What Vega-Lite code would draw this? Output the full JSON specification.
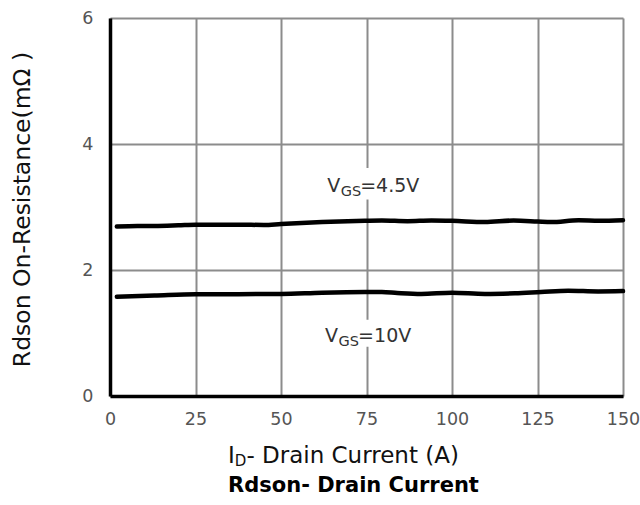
{
  "$schema": "https://vega.github.io/schema/vega-lite/v6.json",
  "width": 513,
  "height": 378,
  "autosize": {"type": "none"},
  "padding": {"left": 110, "top": 18, "right": 17, "bottom": 109},
  "background": "white",
  "config": {"view": {"stroke": null}, "font": "DejaVu Sans"},
  "title": {"text": "Rdson- Drain Current", "orient": "bottom", "anchor": "middle", "frame": "group", "fontSize": 21, "fontWeight": "bold", "font": "DejaVu Sans", "color": "#000000", "offset": 6, "dx": -13},
  "datasets": {
    "curves": [
      {"vgs": "4.5V", "current": 2, "rdson": 2.69},
      {"vgs": "4.5V", "current": 8, "rdson": 2.70},
      {"vgs": "4.5V", "current": 13, "rdson": 2.70},
      {"vgs": "4.5V", "current": 20, "rdson": 2.71},
      {"vgs": "4.5V", "current": 25, "rdson": 2.72},
      {"vgs": "4.5V", "current": 37.5, "rdson": 2.72},
      {"vgs": "4.5V", "current": 45, "rdson": 2.715},
      {"vgs": "4.5V", "current": 50, "rdson": 2.73},
      {"vgs": "4.5V", "current": 62, "rdson": 2.76},
      {"vgs": "4.5V", "current": 74.5, "rdson": 2.78},
      {"vgs": "4.5V", "current": 79.5, "rdson": 2.785},
      {"vgs": "4.5V", "current": 87, "rdson": 2.775},
      {"vgs": "4.5V", "current": 94, "rdson": 2.785},
      {"vgs": "4.5V", "current": 100, "rdson": 2.78},
      {"vgs": "4.5V", "current": 109.6, "rdson": 2.76},
      {"vgs": "4.5V", "current": 118, "rdson": 2.785},
      {"vgs": "4.5V", "current": 125, "rdson": 2.77},
      {"vgs": "4.5V", "current": 129, "rdson": 2.76},
      {"vgs": "4.5V", "current": 137, "rdson": 2.79},
      {"vgs": "4.5V", "current": 143, "rdson": 2.78},
      {"vgs": "4.5V", "current": 150, "rdson": 2.79},
      {"vgs": "10V", "current": 2, "rdson": 1.575},
      {"vgs": "10V", "current": 13, "rdson": 1.595},
      {"vgs": "10V", "current": 25, "rdson": 1.617},
      {"vgs": "10V", "current": 37.5, "rdson": 1.617},
      {"vgs": "10V", "current": 50, "rdson": 1.62},
      {"vgs": "10V", "current": 62, "rdson": 1.64},
      {"vgs": "10V", "current": 74.5, "rdson": 1.65},
      {"vgs": "10V", "current": 79.5, "rdson": 1.65},
      {"vgs": "10V", "current": 84, "rdson": 1.635},
      {"vgs": "10V", "current": 91, "rdson": 1.62},
      {"vgs": "10V", "current": 100, "rdson": 1.64},
      {"vgs": "10V", "current": 109.6, "rdson": 1.62},
      {"vgs": "10V", "current": 118.4, "rdson": 1.63},
      {"vgs": "10V", "current": 126, "rdson": 1.65},
      {"vgs": "10V", "current": 134, "rdson": 1.67},
      {"vgs": "10V", "current": 142.7, "rdson": 1.66},
      {"vgs": "10V", "current": 150, "rdson": 1.665}
    ]
  },
  "layer": [
    {
      "data": {"name": "curves"},
      "mark": {"type": "line", "color": "#000000", "strokeWidth": 4.5, "interpolate": "monotone", "strokeCap": "round"},
      "encoding": {
        "x": {
          "field": "current", "type": "quantitative",
          "scale": {"domain": [0, 150], "nice": false, "zero": false},
          "axis": {
            "values": [0, 25, 50, 75, 100, 125, 150],
            "format": "d",
            "title": null,
            "grid": true, "gridColor": "#8c8c8c", "gridWidth": 2,
            "domainColor": "#000000", "domainWidth": 3.5,
            "ticks": false,
            "labelFlush": false,
            "labelFont": "DejaVu Sans", "labelFontSize": 17.5, "labelColor": "#555555",
            "labelPadding": 14
          }
        },
        "y": {
          "field": "rdson", "type": "quantitative",
          "scale": {"domain": [0, 6], "nice": false},
          "axis": {
            "values": [0, 2, 4, 6],
            "format": "d",
            "title": "Rdson On-Resistance(mΩ )",
            "titleFont": "DejaVu Sans", "titleFontSize": 23.5, "titleFontWeight": "normal", "titleColor": "#111111",
            "titleX": -88, "titleY": 191, "titleBaseline": "middle", "titleAngle": -90,
            "grid": true, "gridColor": "#8c8c8c", "gridWidth": 2,
            "domainColor": "#000000", "domainWidth": 3.5,
            "ticks": false,
            "labelFlush": false,
            "labelFont": "DejaVu Sans", "labelFontSize": 17.5, "labelColor": "#555555",
            "labelPadding": 17
          }
        },
        "detail": {"field": "vgs", "type": "nominal"}
      }
    },
    {
      "data": {"values": [{}]},
      "mark": {"type": "rect", "fill": "white", "stroke": null},
      "encoding": {"x": {"datum": 64}, "x2": {"datum": 90}, "y": {"datum": 3.62}, "y2": {"datum": 3.12}}
    },
    {
      "data": {"values": [{}]},
      "mark": {"type": "rect", "fill": "white", "stroke": null},
      "encoding": {"x": {"datum": 64}, "x2": {"datum": 90}, "y": {"datum": 1.21}, "y2": {"datum": 0.78}}
    },
    {
      "data": {"values": [{"t": "V"}]},
      "mark": {"type": "text", "align": "left", "baseline": "alphabetic", "fontSize": 19, "color": "#333333"},
      "encoding": {"x": {"datum": 63.5}, "y": {"datum": 3.243}, "text": {"field": "t"}}
    },
    {
      "data": {"values": [{"t": "GS"}]},
      "mark": {"type": "text", "align": "left", "baseline": "alphabetic", "fontSize": 14.5, "color": "#333333", "dx": 13.5, "dy": 4},
      "encoding": {"x": {"datum": 63.5}, "y": {"datum": 3.243}, "text": {"field": "t"}}
    },
    {
      "data": {"values": [{"t": "=4.5V"}]},
      "mark": {"type": "text", "align": "left", "baseline": "alphabetic", "fontSize": 19, "color": "#333333", "dx": 33},
      "encoding": {"x": {"datum": 63.5}, "y": {"datum": 3.243}, "text": {"field": "t"}}
    },
    {
      "data": {"values": [{"t": "V"}]},
      "mark": {"type": "text", "align": "left", "baseline": "alphabetic", "fontSize": 19, "color": "#333333"},
      "encoding": {"x": {"datum": 62.9}, "y": {"datum": 0.863}, "text": {"field": "t"}}
    },
    {
      "data": {"values": [{"t": "GS"}]},
      "mark": {"type": "text", "align": "left", "baseline": "alphabetic", "fontSize": 14.5, "color": "#333333", "dx": 13.5, "dy": 4},
      "encoding": {"x": {"datum": 62.9}, "y": {"datum": 0.863}, "text": {"field": "t"}}
    },
    {
      "data": {"values": [{"t": "=10V"}]},
      "mark": {"type": "text", "align": "left", "baseline": "alphabetic", "fontSize": 19, "color": "#333333", "dx": 33},
      "encoding": {"x": {"datum": 62.9}, "y": {"datum": 0.863}, "text": {"field": "t"}}
    },
    {
      "data": {"values": [{"t": "I"}]},
      "mark": {"type": "text", "align": "left", "baseline": "alphabetic", "fontSize": 23, "color": "#111111", "dy": 67},
      "encoding": {"x": {"datum": 34.5}, "y": {"datum": 0}, "text": {"field": "t"}}
    },
    {
      "data": {"values": [{"t": "D"}]},
      "mark": {"type": "text", "align": "left", "baseline": "alphabetic", "fontSize": 15, "color": "#111111", "dx": 6.8, "dy": 70},
      "encoding": {"x": {"datum": 34.5}, "y": {"datum": 0}, "text": {"field": "t"}}
    },
    {
      "data": {"values": [{"t": "- Drain Current (A)"}]},
      "mark": {"type": "text", "align": "left", "baseline": "alphabetic", "fontSize": 23, "color": "#111111", "dx": 18.4, "dy": 67},
      "encoding": {"x": {"datum": 34.5}, "y": {"datum": 0}, "text": {"field": "t"}}
    }
  ]
}
